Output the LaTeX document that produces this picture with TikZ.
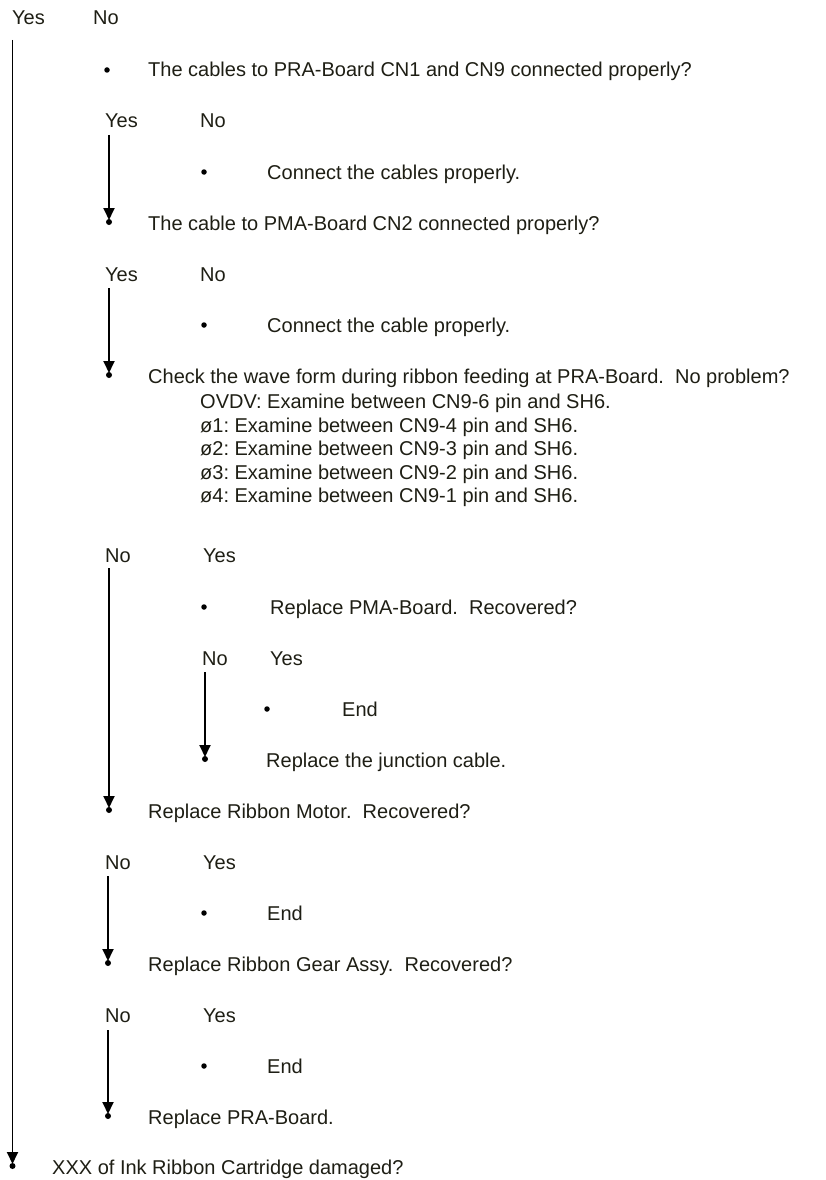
\documentclass[tikz,border=0pt]{standalone}
\usepackage{fontspec}
\setmainfont{Liberation Sans}
\usetikzlibrary{arrows.meta}
\definecolor{ink}{HTML}{1E1E14}
\frenchspacing
\begin{document}
\begin{tikzpicture}[x=1pt,y=-1pt,
  txt/.style={anchor=base west,inner sep=0pt,text=ink,font=\fontsize{20}{24}\selectfont},
  dot/.style={circle,fill=black,inner sep=0pt,minimum size=5.5pt},
  enddot/.style={circle,fill=black,inner sep=0pt,minimum size=6pt},
  arr/.style={line width=1.8pt,-{Triangle[width=11pt,length=12pt]},shorten >=2pt}]
\useasboundingbox (0,0) rectangle (825,1180);
% top level
\node[txt] (y0) at (12,25) {Yes};
\node[txt] (n0) at (93,25) {No};
\coordinate (s0) at (12.5,40);
% level A
\node[dot] (b1) at (107,70) {};
\node[txt] (t1) at (148,77) {The cables to PRA-Board CN1 and CN9 connected properly?};
\node[txt] (y1) at (105,128) {Yes};
\node[txt] (n1) at (200,128) {No};
\coordinate (s1) at (109,135);
\node[dot] (b2) at (204,172) {};
\node[txt] (t2) at (267,179) {Connect the cables properly.};
\node[enddot] (e1) at (109,222) {};
\node[txt] (t3) at (148,230) {The cable to PMA-Board CN2 connected properly?};
\node[txt] (y2) at (105,281) {Yes};
\node[txt] (n2) at (200,281) {No};
\coordinate (s2) at (109,288);
\node[dot] (b3) at (204,325) {};
\node[txt] (t4) at (267,332) {Connect the cable properly.};
\node[enddot] (e2) at (109,375) {};
\node[txt] (t5) at (148,383) {Check the wave form during ribbon feeding at PRA-Board.\ \ No problem?};
\node[txt] (c1) at (200,408) {OVDV: Examine between CN9-6 pin and SH6.};
\node[txt] (c2) at (200,432) {ø1: Examine between CN9-4 pin and SH6.};
\node[txt] (c3) at (200,455) {ø2: Examine between CN9-3 pin and SH6.};
\node[txt] (c4) at (200,479) {ø3: Examine between CN9-2 pin and SH6.};
\node[txt] (c5) at (200,502) {ø4: Examine between CN9-1 pin and SH6.};
\node[txt] (n3) at (105,562) {No};
\node[txt] (y3) at (203,562) {Yes};
\coordinate (s3) at (109,568);
\node[dot] (b4) at (204,607) {};
\node[txt] (t6) at (270,614) {Replace PMA-Board.\ \ Recovered?};
\node[txt] (n4) at (202,665) {No};
\node[txt] (y4) at (270,665) {Yes};
\coordinate (s4) at (205,672);
\node[dot] (b5) at (267,709) {};
\node[txt] (t7) at (342,716) {End};
\node[enddot] (e4) at (205,759) {};
\node[txt] (t8) at (266,767) {Replace the junction cable.};
\node[enddot] (e3) at (109,810) {};
\node[txt] (t9) at (148,818) {Replace Ribbon Motor.\ \ Recovered?};
\node[txt] (n5) at (105,869) {No};
\node[txt] (y5) at (203,869) {Yes};
\coordinate (s5) at (108,876);
\node[dot] (b6) at (204,913) {};
\node[txt] (t10) at (267,920) {End};
\node[enddot] (e5) at (108,963) {};
\node[txt] (t11) at (148,971) {Replace Ribbon Gear Assy.\ \ Recovered?};
\node[txt] (n6) at (105,1022) {No};
\node[txt] (y6) at (203,1022) {Yes};
\coordinate (s6) at (108,1030);
\node[dot] (b7) at (204,1066) {};
\node[txt] (t12) at (267,1073) {End};
\node[enddot] (e6) at (108,1116) {};
\node[txt] (t13) at (148,1124) {Replace PRA-Board.};
\node[enddot] (e0) at (12.5,1166) {};
\node[txt] (t14) at (52,1174) {XXX of Ink Ribbon Cartridge damaged?};
% arrows
\draw[arr] (s0) -- (e0.center);
\draw[arr] (s1) -- (e1.center);
\draw[arr] (s2) -- (e2.center);
\draw[arr] (s3) -- (e3.center);
\draw[arr] (s4) -- (e4.center);
\draw[arr] (s5) -- (e5.center);
\draw[arr] (s6) -- (e6.center);
\end{tikzpicture}
\end{document}
